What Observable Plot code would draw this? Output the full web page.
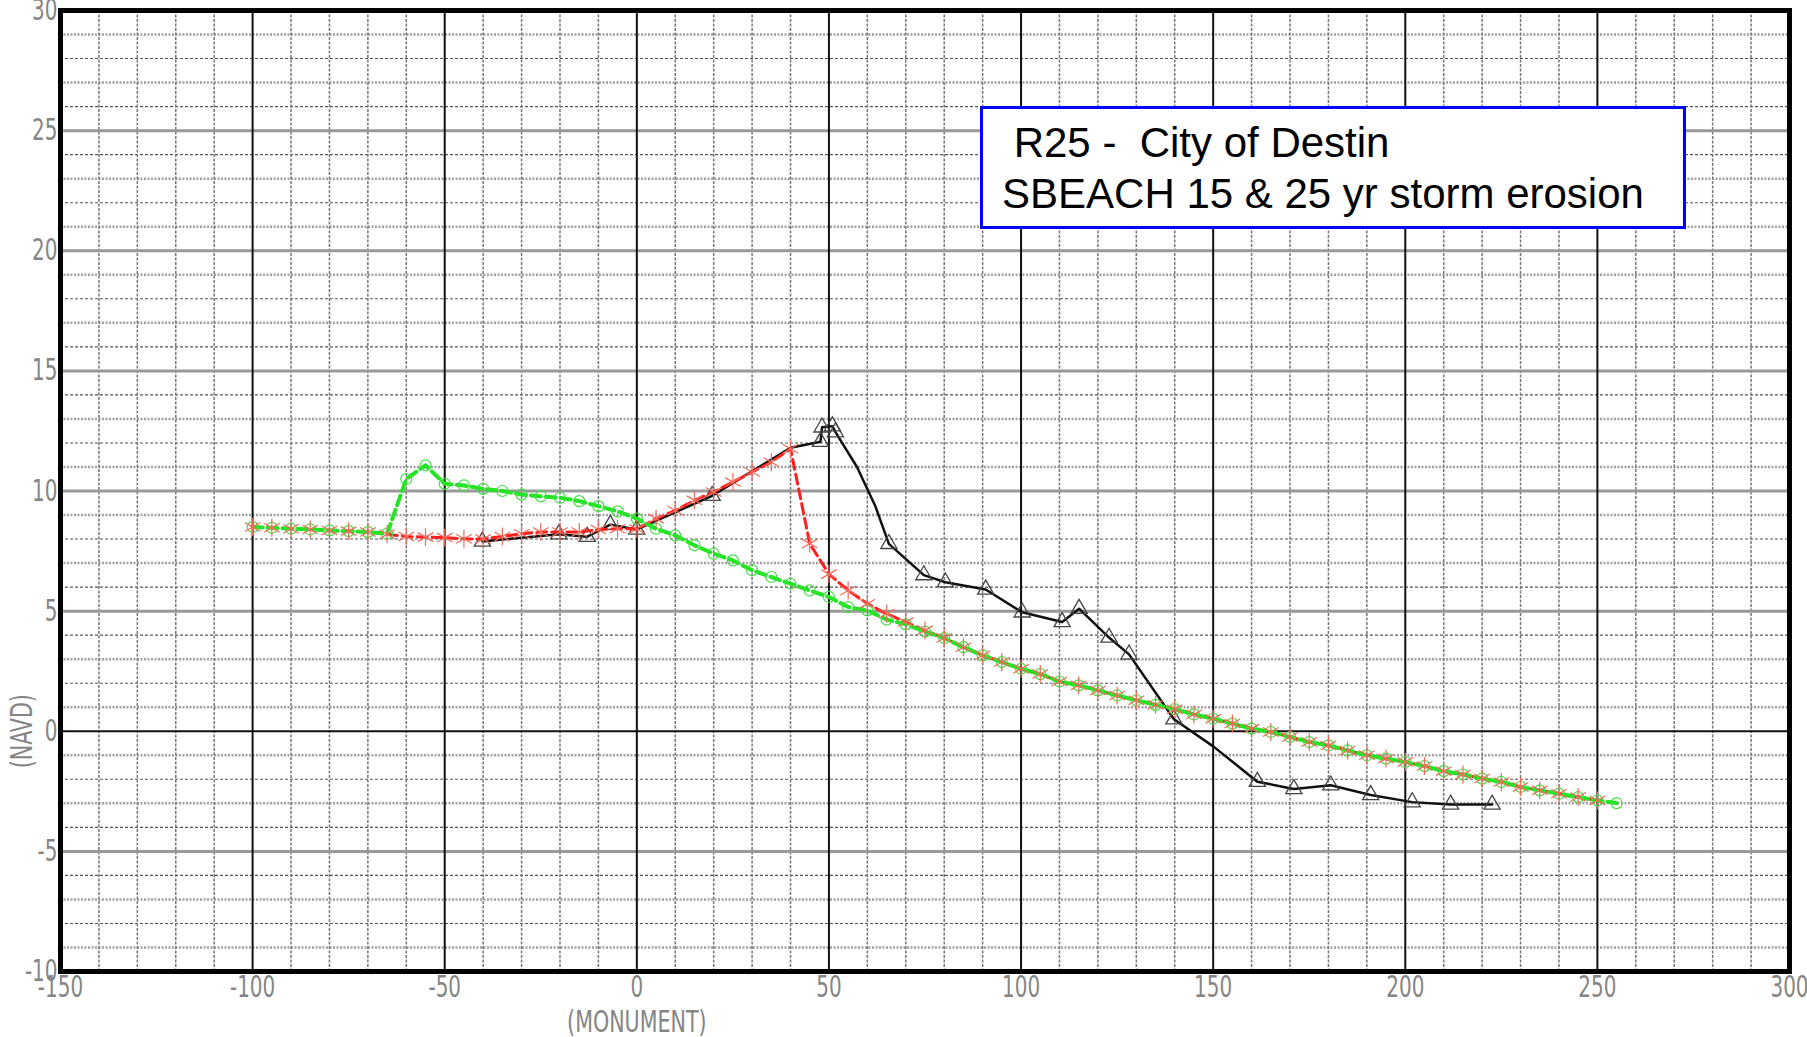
<!DOCTYPE html>
<html>
<head>
<meta charset="utf-8">
<script src="https://cdn.jsdelivr.net/npm/d3@7"></script>
<script src="https://cdn.jsdelivr.net/npm/@observablehq/plot@0.6"></script>
<style>
html,body{margin:0;padding:0;background:#fff;overflow:hidden;}
#wrap{position:relative;width:1807px;height:1037px;}
#box{position:absolute;left:980px;top:106px;width:700px;height:117px;border:3px solid #0000ff;background:#fff;font-family:"Liberation Sans",Arial,sans-serif;font-size:42px;color:#000;}
#box div{position:absolute;left:19px;white-space:pre;line-height:48px;}
</style>
</head>
<body>
<div id="wrap">
  <div id="chart"></div>
  <div id="box"><div style="top:10px"> R25 -  City of Destin</div><div style="top:61px">SBEACH 15 &amp; 25 yr storm erosion</div></div>
</div>
<script>
// ---- data ----
const xTicks = [-150, -100, -50, 0, 50, 100, 150, 200, 250, 300];
const yTicks = [-10, -5, 0, 5, 10, 15, 20, 25, 30];

// 15 yr storm profile (green, circles)
const greenX = [-100,-95,-90,-85,-80,-75,-70,-65,-60,-55,-50,-45,-40,-35,-30,-25,-20,-15,-10,-5,
  0,5,10,15,20,25,30,35,40,45,50,55,60,65,70,75,80,85,90,95,100,105,110,115,120,125,130,135,140,145,
  150,155,160,165,170,175,180,185,190,195,200,205,210,215,220,225,230,235,240,245,250,255];
const greenY = [8.50,8.47,8.43,8.40,8.36,8.33,8.29,8.22,10.50,11.07,10.30,10.23,10.09,10.00,9.85,9.78,9.72,9.58,9.37,9.15,
  8.85,8.43,8.15,7.74,7.39,7.11,6.70,6.42,6.14,5.86,5.59,5.17,5.03,4.65,4.45,4.15,3.88,3.50,3.16,2.88,2.60,2.38,2.07,1.91,1.70,1.49,1.29,1.10,0.92,0.70,
  0.52,0.32,0.11,-0.03,-0.24,-0.45,-0.59,-0.80,-1.00,-1.14,-1.28,-1.45,-1.66,-1.80,-1.97,-2.11,-2.32,-2.46,-2.60,-2.74,-2.88,-2.99];

// 25 yr storm profile (red, stars)
const redX = [-100,-95,-90,-85,-80,-75,-70,-65,-60,-55,-50,-45,-40,-35,-30,-25,-20,-15,-10,-5,
  0,5,10,15,20,25,30,35,40,45,50,55,60,65,70,75,80,85,90,95,100,105,110,115,120,125,130,135,140,145,
  150,155,160,165,170,175,180,185,190,195,200,205,210,215,220,225,230,235,240,245,250];
const redY = [8.50,8.47,8.43,8.40,8.36,8.33,8.29,8.20,8.11,8.08,8.06,8.01,8.00,8.11,8.22,8.29,8.29,8.29,8.40,8.43,
  8.42,8.85,9.19,9.61,9.96,10.37,10.79,11.20,11.76,7.81,6.54,5.86,5.31,4.89,4.55,4.20,3.88,3.50,3.16,2.88,2.60,2.38,2.07,1.91,1.70,1.49,1.29,1.10,0.92,0.70,
  0.52,0.32,0.11,-0.03,-0.24,-0.45,-0.59,-0.80,-1.00,-1.14,-1.28,-1.45,-1.66,-1.80,-1.97,-2.11,-2.32,-2.46,-2.60,-2.74,-2.88];

// pre-storm profile (black, triangles)
const blackX = [-40.2,-20.3,-12.9,-6.9,0,19.6,40,47.8,48.2,50.9,51.7,57.3,62,65.6,74.7,80.3,90.8,100.3,110.7,115.1,122.9,128.1,139.8,150.2,161.5,171,180.6,191,201.8,211.8,222.6];
const blackY = [7.9,8.2,8.1,8.6,8.4,9.8,11.8,12.05,12.65,12.7,12.45,11.0,9.4,7.8,6.5,6.2,5.9,4.95,4.55,5.1,3.9,3.2,0.5,-0.65,-2.1,-2.4,-2.25,-2.65,-2.95,-3.05,-3.05];
const blackMarkX = [-40.2,-20.3,-12.9,-6.9,0,19.6,47.8,48.2,50.9,51.7,65.6,74.7,80.3,90.8,100.3,110.7,115.1,122.9,128.1,139.8,161.5,171,180.6,191,201.8,211.8,222.6];
const blackMarkY = [7.9,8.2,8.1,8.6,8.4,9.8,12.05,12.65,12.7,12.45,7.8,6.5,6.2,5.9,4.95,4.55,5.1,3.9,3.2,0.5,-2.1,-2.4,-2.25,-2.65,-2.95,-3.05,-3.05];

const xLabel = "(MONUMENT)";
const yLabel = "(NAVD)";

// ---- build tables ----
const zip = (xs, ys) => xs.map((x, i) => ({x, y: ys[i]}));
const green = zip(greenX, greenY);
const red = zip(redX, redY);
const black = zip(blackX, blackY);
const blackMarks = zip(blackMarkX, blackMarkY);

const xMinor = d3.range(-150, 301, 10).filter(v => v % 50 !== 0);
const xMajor = d3.range(-150, 301, 50);
const yAll = d3.range(-10, 31, 1);
const yOdd = yAll.filter(v => Math.abs(v) % 2 === 1 && v % 5 !== 0);
const yEven = yAll.filter(v => Math.abs(v) % 2 === 0 && v % 5 !== 0);
const yFives = yAll.filter(v => v % 5 === 0 && v !== 0);

const axisFont = '"DejaVu Sans Condensed","Liberation Sans Narrow","DejaVu Sans",sans-serif';
const grey = "#858585";

const chart = Plot.plot({
  width: 1807,
  height: 1037,
  marginLeft: 60,
  marginRight: 18,
  marginTop: 10,
  marginBottom: 66,
  x: {domain: [-150, 300]},
  y: {domain: [-10, 30]},
  style: {background: "transparent", fontFamily: axisFont, fontSize: "30px", overflow: "visible"},
  marks: [
    Plot.ruleY(yOdd, {stroke: "#a0a0a0", strokeWidth: 2.5, strokeDasharray: "2,1.5"}),
    Plot.ruleY(yEven, {stroke: "#555", strokeWidth: 1.1, strokeDasharray: "3,2"}),
    Plot.ruleX(xMinor, {stroke: "#777", strokeWidth: 1.5, strokeDasharray: "3,1.5"}),
    Plot.ruleY(yFives, {stroke: "#999", strokeWidth: 3}),
    Plot.ruleX(xMajor, {stroke: "#111", strokeWidth: 2}),
    Plot.ruleY([0], {stroke: "#111", strokeWidth: 2}),

    Plot.line(black, {x: "x", y: "y", stroke: "#111", strokeWidth: 2.5}),
    Plot.dot(blackMarks, {x: "x", y: "y", symbol: "triangle", r: 6, stroke: "#444", strokeWidth: 1.3, fill: "none"}),
    Plot.line(red, {x: "x", y: "y", stroke: "#ff1e1e", strokeWidth: 3, strokeDasharray: "10,5"}),
    Plot.line(green, {x: "x", y: "y", stroke: "#22e422", strokeWidth: 4, strokeDasharray: "10,5"}),
    Plot.dot(green, {x: "x", y: "y", symbol: "circle", r: 5.5, stroke: "#44dd44", strokeWidth: 1.2, fill: "none"}),
    Plot.dot(red, {x: "x", y: "y", symbol: "asterisk", r: 8.5, stroke: "#f46a5a", strokeWidth: 1.2}),

    Plot.frame({stroke: "#000", strokeWidth: 5}),
    Plot.axisX(xTicks, {tickSize: 0, tickPadding: 4, fill: grey, fontSize: 30, tickFormat: d => String(d), label: null}),
    Plot.axisY(yTicks, {tickSize: 0, tickPadding: 3, fill: grey, fontSize: 30, tickFormat: d => String(d), label: null}),
    Plot.text([xLabel], {x: [0], text: d => d, frameAnchor: "bottom", lineAnchor: "middle", dy: 51, fill: grey, fontSize: 31}),
    Plot.text([yLabel], {y: [0], text: d => d, frameAnchor: "left", textAnchor: "middle", lineAnchor: "middle", dx: -38, rotate: -90, fill: grey, fontSize: 31})
  ]
});

// narrow the CAD-style axis lettering horizontally (style only; positions kept)
chart.querySelectorAll('g[aria-label="x-axis tick label"] text, g[aria-label="y-axis tick label"] text, g[aria-label="text"] text').forEach(t => {
  const xs = t.getAttribute("x");
  const x = xs != null && isFinite(parseFloat(xs)) && !/em$/.test(xs) ? parseFloat(xs) : 0;
  if (xs != null && x !== 0) t.setAttribute("x", 0);
  const tr = t.getAttribute("transform") || "";
  t.setAttribute("transform", `${tr} translate(${x},0) scale(0.74,1)`.trim());
});

document.getElementById("chart").appendChild(chart);
</script>
</body>
</html>
